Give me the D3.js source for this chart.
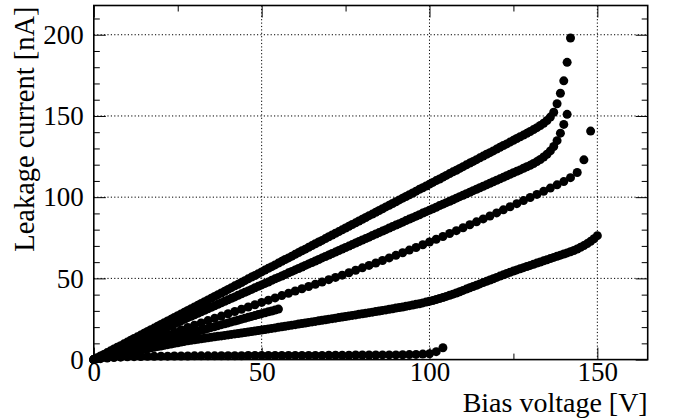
<!DOCTYPE html>
<html>
<head>
<meta charset="utf-8">
<script src="https://cdn.jsdelivr.net/npm/d3@7"></script>
<style>
  html, body { margin: 0; padding: 0; background: #fff; }
  svg { display: block; }
  text { font-family: "Liberation Serif", "Times New Roman", serif; fill: #000; }
</style>
</head>
<body>
<svg id="chart" width="673" height="419"></svg>
<script>
// I-V scans: leakage current [nA] per bias-voltage step [V]
const scanStepA = 1;
const currentA = [0,1.1,2.2,3.2,4.3,5.4,6.5,7.6,8.6,9.7,10.8,11.9,13.0,14.0,15.1,16.2,17.3,18.4,19.4,20.5,
  21.6,22.7,23.8,24.8,25.9,27.0,28.1,29.2,30.2,31.3,32.4,33.5,34.6,35.6,36.7,37.8,38.9,40.0,41.0,42.1,
  43.2,44.3,45.4,46.4,47.5,48.6,49.7,50.8,51.8,52.9,54.0,55.1,56.2,57.2,58.3,59.4,60.5,61.6,62.6,63.7,
  64.8,65.9,67.0,68.0,69.1,70.2,71.3,72.4,73.4,74.5,75.6,76.7,77.8,78.8,79.9,81.0,82.1,83.2,84.2,85.3,
  86.4,87.5,88.6,89.6,90.7,91.8,92.9,94.0,95.0,96.1,97.2,98.3,99.4,100.4,101.5,102.6,103.7,104.8,105.8,106.9,
  108.0,109.1,110.2,111.2,112.3,113.4,114.5,115.6,116.6,117.7,118.8,119.9,121.0,122.0,123.1,124.2,125.3,126.4,127.4,128.5,
  129.6,130.7,131.8,132.8,133.9,135.0,136.1,137.2,138.2,139.3,140.4,141.6,142.8,144.1,145.5,147.2,149.3,152.3,157.5,164.0,
  171.6,183.0,198.0];

const scanStepB = 1;
const currentB = [0,0.9,1.8,2.8,3.7,4.6,5.5,6.4,7.4,8.3,9.2,10.1,11.0,12.0,12.9,13.8,14.7,15.6,16.6,17.5,
  18.4,19.3,20.2,21.2,22.1,23.0,23.9,24.8,25.8,26.7,27.6,28.5,29.4,30.4,31.3,32.2,33.1,34.0,35.0,35.9,
  36.8,37.7,38.6,39.6,40.5,41.4,42.3,43.2,44.2,45.1,46.0,46.9,47.8,48.8,49.7,50.6,51.5,52.4,53.4,54.3,
  55.2,56.1,57.0,58.0,58.9,59.8,60.7,61.6,62.6,63.5,64.4,65.3,66.2,67.2,68.1,69.0,69.9,70.8,71.8,72.7,
  73.6,74.5,75.4,76.4,77.3,78.2,79.1,80.0,81.0,81.9,82.8,83.7,84.6,85.6,86.5,87.4,88.3,89.2,90.2,91.1,
  92.0,92.9,93.8,94.8,95.7,96.6,97.5,98.4,99.4,100.3,101.2,102.1,103.0,104.0,104.9,105.8,106.7,107.6,108.6,109.5,
  110.4,111.3,112.2,113.2,114.1,115.0,115.9,116.8,117.8,118.7,119.6,120.7,121.9,123.2,124.7,126.4,128.5,131.2,134.8,139.4,
  144.8,151.0];

const scanStepC = 2;
const currentC = [0,1.5,3.0,4.4,5.8,7.2,8.6,10.0,11.4,12.8,14.2,15.6,17.0,18.4,19.8,21.2,22.6,24.0,25.4,26.8,
  28.2,29.6,31.0,32.4,33.8,35.2,36.6,38.0,39.4,40.8,42.2,43.6,45.0,46.4,47.8,49.2,50.6,52.0,53.5,55.0,
  56.5,58.0,59.5,61.0,62.6,64.2,65.8,67.4,69.0,70.7,72.4,74.1,75.8,77.6,79.4,81.2,83.0,84.8,86.6,88.4,
  90.3,92.2,94.1,96.0,97.9,99.8,101.7,103.6,105.6,107.6,109.6,112.0,115.2,123.0,140.7];

const scanStepD = 1;
const currentD = [0,0.6,1.1,1.6,2.0,2.4,2.8,3.2,3.6,4.0,4.4,4.8,5.2,5.6,6.0,6.4,6.8,7.2,7.6,8.0,
  8.4,8.8,9.2,9.6,10.0,10.4,10.8,11.2,11.6,11.9,12.2,12.5,12.8,13.1,13.4,13.7,14.0,14.3,14.6,14.9,
  15.2,15.5,15.8,16.1,16.4,16.7,17.0,17.3,17.6,17.9,18.2,18.5,18.9,19.2,19.5,19.9,20.2,20.5,20.9,21.2,
  21.5,21.9,22.2,22.5,22.9,23.2,23.5,23.9,24.2,24.5,24.9,25.2,25.5,25.9,26.2,26.5,26.9,27.2,27.5,27.9,
  28.2,28.5,28.9,29.2,29.6,29.9,30.3,30.6,31.0,31.3,31.7,32.0,32.4,32.8,33.2,33.6,34.0,34.4,34.9,35.4,
  35.9,36.4,37.0,37.6,38.2,38.9,39.6,40.3,41.0,41.8,42.6,43.4,44.2,45.0,45.8,46.6,47.4,48.2,49.0,49.8,
  50.6,51.4,52.2,53.0,53.8,54.5,55.2,55.9,56.6,57.3,58.0,58.7,59.4,60.1,60.8,61.5,62.2,62.9,63.6,64.3,
  65.0,65.7,66.4,67.2,68.1,69.1,70.2,71.4,72.8,74.4,76.3];

const scanStepE = 2;
const currentE = [0,0.6,1.0,1.3,1.5,1.7,1.8,1.9,2.0,2.0,2.1,
  2.1,2.2,2.2,2.2,2.3, 2.3,2.3,2.3,2.4,2.4, 2.4,2.4,2.5,2.5,2.5, 2.5,2.5,2.5,2.6,2.6,
  2.6,2.6,2.6,2.6,2.7, 2.7,2.7,2.7,2.8,2.8, 2.8,2.8,2.9,2.9,2.9, 3.0,3.1,3.2,3.4,3.6,
  4.9,7.3];

const scanStepF = 1;
const currentF = [0,0.6,1.1,1.7,2.3,2.8,3.4,4.0,4.5,5.1,5.7,6.2,6.8,7.3,7.9,8.5,9.0,9.6,10.2,10.7,
  11.3,11.9,12.4,13.0,13.6,14.1,14.7,15.3,15.8,16.4,17.0,17.5,18.1,18.6,19.2,19.8,20.3,20.9,21.5,22.0,
  22.6,23.2,23.7,24.3,24.9,25.4,26.0,26.6,27.1,27.7,28.3,28.8,29.4,29.9,30.5,31.1];

const xTicksMajor = [0, 50, 100, 150];
const xTicksMinor = [25, 75, 125];
const yTicksMajor = [0, 50, 100, 150, 200];
const yTicksMinor = [10, 20, 30, 40, 60, 70, 80, 90, 110, 120, 130, 140, 160, 170, 180, 190, 210];
const xTitle = "Bias voltage [V]";
const yTitle = "Leakage current [nA]";

const scans = [
  { step: scanStepA, current: currentA },
  { step: scanStepB, current: currentB },
  { step: scanStepC, current: currentC },
  { step: scanStepD, current: currentD },
  { step: scanStepE, current: currentE },
  { step: scanStepF, current: currentF }
];
const points = scans.flatMap(s => s.current.map((c, i) => ({ v: i * s.step, c })));

const W = 673, H = 419;
const margin = { top: 5.5, right: 25.3, bottom: 59.4, left: 93.8 };
const w = W - margin.left - margin.right;
const h = H - margin.top - margin.bottom;

const svg = d3.select("#chart");
const g = svg.append("g").attr("transform", `translate(${margin.left},${margin.top})`);

const x = d3.scaleLinear().domain([0, 165]).range([0, w]);
const y = d3.scaleLinear().domain([0, 218]).range([h, 0]);

// dotted grid at the major ticks
const grid = g.append("g").attr("class", "grid");
grid.selectAll("line.gx").data(xTicksMajor.filter(d => d > 0)).join("line")
  .attr("class", "gx")
  .attr("x1", d => x(d)).attr("x2", d => x(d)).attr("y1", 0).attr("y2", h);
grid.selectAll("line.gy").data(yTicksMajor.filter(d => d > 0)).join("line")
  .attr("class", "gy")
  .attr("x1", 0).attr("x2", w).attr("y1", d => y(d)).attr("y2", d => y(d));
grid.selectAll("line")
  .attr("stroke", "#000").attr("stroke-width", 1).attr("stroke-dasharray", "1.2,2.2");

// data points
g.append("g").selectAll("circle").data(points).join("circle")
  .attr("cx", d => x(d.v)).attr("cy", d => y(d.c)).attr("r", 4.5).attr("fill", "#000");

// axes with inward ticks on all four sides
function styleAxis(sel) {
  sel.select(".domain").remove();
  sel.selectAll(".tick line").attr("stroke", "#000").attr("stroke-width", 1);
  sel.selectAll("text").attr("font-size", 27).attr("fill", "#000");
}
g.append("g").attr("transform", `translate(0,${h})`)
  .call(d3.axisBottom(x).tickValues(xTicksMajor).tickSize(-12).tickPadding(2.5).tickSizeOuter(0))
  .call(styleAxis);
g.append("g").attr("transform", `translate(0,${h})`)
  .call(d3.axisBottom(x).tickValues(xTicksMinor).tickSize(-6).tickFormat("").tickSizeOuter(0))
  .call(styleAxis);
g.append("g")
  .call(d3.axisTop(x).tickValues(xTicksMajor).tickSize(-12).tickFormat("").tickSizeOuter(0))
  .call(styleAxis);
g.append("g")
  .call(d3.axisTop(x).tickValues(xTicksMinor).tickSize(-6).tickFormat("").tickSizeOuter(0))
  .call(styleAxis);
g.append("g")
  .call(d3.axisLeft(y).tickValues(yTicksMajor).tickSize(-12).tickPadding(10).tickSizeOuter(0))
  .call(styleAxis);
g.append("g")
  .call(d3.axisLeft(y).tickValues(yTicksMinor).tickSize(-6).tickFormat("").tickSizeOuter(0))
  .call(styleAxis);
g.append("g").attr("transform", `translate(${w},0)`)
  .call(d3.axisRight(y).tickValues(yTicksMajor).tickSize(-12).tickFormat("").tickSizeOuter(0))
  .call(styleAxis);
g.append("g").attr("transform", `translate(${w},0)`)
  .call(d3.axisRight(y).tickValues(yTicksMinor).tickSize(-6).tickFormat("").tickSizeOuter(0))
  .call(styleAxis);

// frame
g.append("rect").attr("x", 0).attr("y", 0).attr("width", w).attr("height", h)
  .attr("fill", "none").attr("stroke", "#000").attr("stroke-width", 1.6);

// axis titles, aligned to the far end of each axis
svg.append("text")
  .attr("x", margin.left + w).attr("y", 412.3)
  .attr("text-anchor", "end").attr("font-size", 28)
  .text(xTitle);
svg.append("text")
  .attr("transform", `translate(34,${margin.top + 1}) rotate(-90)`)
  .attr("text-anchor", "end").attr("font-size", 28.5)
  .text(yTitle);
</script>
</body>
</html>
